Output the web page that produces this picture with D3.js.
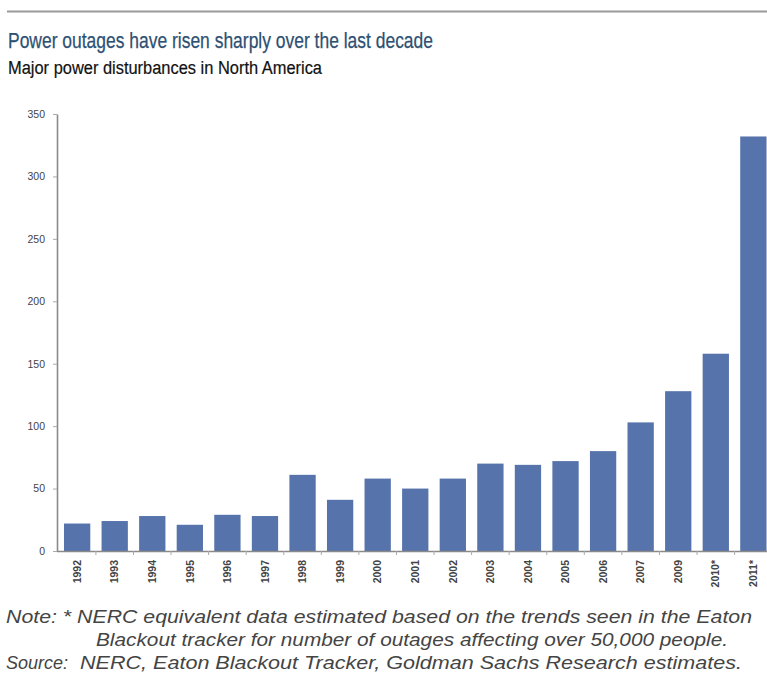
<!DOCTYPE html>
<html>
<head>
<meta charset="utf-8">
<script src="https://cdn.jsdelivr.net/npm/d3@7/dist/d3.min.js"></script>
<style>
  html, body { margin: 0; padding: 0; background: #fff; }
  svg { display: block; }
</style>
</head>
<body>
<div id="chart"></div>
<script>
const categories = ["1992","1993","1994","1995","1996","1997","1998","1999","2000","2001","2002","2003","2004","2005","2006","2007","2009","2010*","2011*"];
const values = [22, 24, 28, 21, 29, 28, 61, 41, 58, 50, 58, 70, 69, 72, 80, 103, 128, 158, 332];
const yTicks = [0, 50, 100, 150, 200, 250, 300, 350];

const titleText = "Power outages have risen sharply over the last decade";
const subtitleText = "Major power disturbances in North America";
const noteLines = [
  "Note: * NERC equivalent data estimated based on the trends seen in the Eaton",
  "Blackout tracker for number of outages affecting over 50,000 people.",
  "Source:",
  "NERC, Eaton Blackout Tracker, Goldman Sachs Research estimates."
];

const W = 767, H = 679;
const FONT = "Liberation Sans, Arial, sans-serif";
const svg = d3.select("#chart").append("svg").attr("width", W).attr("height", H);

// top rule
svg.append("line").attr("x1", 7).attr("x2", W).attr("y1", 11.5).attr("y2", 11.5)
  .attr("stroke", "#9a9a9a").attr("stroke-width", 2.2);

// titles
svg.append("text").attr("x", 8).attr("y", 47.5).text(titleText)
  .attr("font-family", FONT).attr("font-size", 22.5)
  .attr("fill", "#2d5072").attr("stroke", "#2d5072").attr("stroke-width", 0.25)
  .attr("textLength", 425).attr("lengthAdjust", "spacingAndGlyphs");
svg.append("text").attr("x", 8).attr("y", 74).text(subtitleText)
  .attr("font-family", FONT).attr("font-size", 18)
  .attr("fill", "#111").attr("stroke", "#111").attr("stroke-width", 0.2)
  .attr("textLength", 314).attr("lengthAdjust", "spacingAndGlyphs");

const x0 = 57, yBase = 551, yTop = 114;
const x = d3.scaleBand().domain(categories).range([x0, 773.5]).paddingInner(0.3).paddingOuter(0.186);
const y = d3.scaleLinear().domain([0, 350]).range([yBase, yTop]);

// bars
svg.append("g").selectAll("rect").data(values).join("rect")
  .attr("x", (d, i) => x(categories[i]))
  .attr("width", x.bandwidth())
  .attr("y", d => y(d))
  .attr("height", d => y(0) - y(d))
  .attr("fill", "#5673ab");

// y axis
const yAxis = svg.append("g").attr("transform", `translate(${x0},0)`)
  .call(d3.axisLeft(y).tickValues(yTicks).tickSize(4).tickPadding(8).tickSizeOuter(0));
yAxis.select(".domain").attr("stroke", "#8a8a8a").attr("stroke-width", 1.6);
yAxis.selectAll(".tick line").attr("stroke", "#aaa");
yAxis.selectAll(".tick text").attr("font-family", FONT)
  .attr("font-size", 10.5).attr("fill", "#444");

// x axis
const xAxis = svg.append("g").attr("transform", `translate(0,${yBase})`)
  .call(d3.axisBottom(x).tickSize(0).tickPadding(0).tickSizeOuter(0));
xAxis.select(".domain").remove();
svg.append("line").attr("x1", x0).attr("x2", W).attr("y1", yBase + 0.5).attr("y2", yBase + 0.5)
  .attr("stroke", "#8a8a8a").attr("stroke-width", 1.6);
const bounds = categories.slice(1).map(c => x(c) - x.step() * x.paddingInner() / 2);
svg.append("g").selectAll("line").data(bounds).join("line")
  .attr("x1", d => d).attr("x2", d => d).attr("y1", yBase).attr("y2", yBase + 4)
  .attr("stroke", "#aaa");
xAxis.selectAll(".tick line").remove();
xAxis.selectAll(".tick text")
  .attr("transform", "translate(0,9) rotate(-90)")
  .attr("text-anchor", "end").attr("dy", "0.35em").attr("dx", 0).attr("y", 0).attr("x", 0)
  .attr("font-family", FONT).attr("font-size", 10.5)
  .attr("font-weight", "bold").attr("fill", "#444");

// notes
const noteG = svg.append("g").attr("font-family", FONT)
  .attr("font-size", 17.5).attr("font-style", "italic").attr("fill", "#444");
noteG.append("text").attr("x", 6).attr("y", 623).text(noteLines[0])
  .attr("textLength", 746).attr("lengthAdjust", "spacingAndGlyphs");
noteG.append("text").attr("x", 96).attr("y", 646).text(noteLines[1])
  .attr("textLength", 632).attr("lengthAdjust", "spacingAndGlyphs");
noteG.append("text").attr("x", 6).attr("y", 669).text(noteLines[2])
  .attr("textLength", 62).attr("lengthAdjust", "spacingAndGlyphs");
noteG.append("text").attr("x", 80).attr("y", 669).text(noteLines[3])
  .attr("textLength", 662).attr("lengthAdjust", "spacingAndGlyphs");
</script>
</body>
</html>
